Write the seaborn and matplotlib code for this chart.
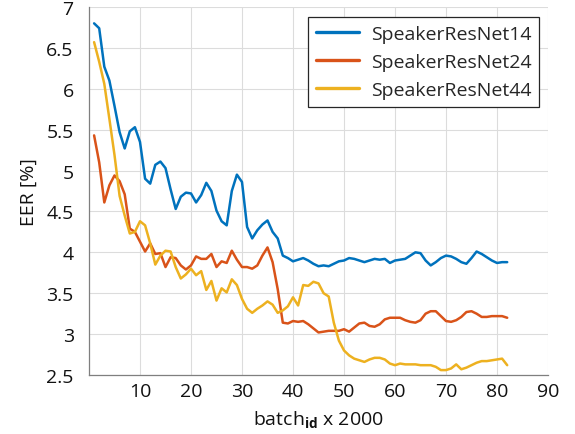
import numpy as np
import pandas as pd
import matplotlib
matplotlib.use("Agg")
import matplotlib.pyplot as plt
import seaborn as sns

batch = list(range(1, 83))
resnet14 = [6.80, 6.74, 6.27, 6.10, 5.79, 5.47, 5.27, 5.48, 5.53, 5.35,
            4.90, 4.84, 5.07, 5.11, 5.03, 4.77, 4.53, 4.68, 4.73, 4.72,
            4.61, 4.70, 4.85, 4.75, 4.51, 4.38, 4.33, 4.75, 4.95, 4.86,
            4.31, 4.17, 4.27, 4.34, 4.39, 4.25, 4.17, 3.96, 3.93, 3.89,
            3.91, 3.93, 3.90, 3.86, 3.83, 3.84, 3.83, 3.86, 3.89, 3.90,
            3.93, 3.92, 3.90, 3.88, 3.90, 3.92, 3.91, 3.92, 3.87, 3.90,
            3.91, 3.92, 3.96, 4.00, 3.99, 3.90, 3.84, 3.88, 3.93, 3.96,
            3.95, 3.92, 3.88, 3.86, 3.93, 4.01, 3.98, 3.94, 3.90, 3.87,
            3.88, 3.88]
resnet24 = [5.43, 5.10, 4.61, 4.82, 4.94, 4.87, 4.71, 4.29, 4.25, 4.13,
            4.01, 4.11, 3.98, 3.99, 3.82, 3.94, 3.93, 3.84, 3.79, 3.84,
            3.95, 3.92, 3.92, 3.98, 3.82, 3.89, 3.87, 4.02, 3.91, 3.82,
            3.82, 3.80, 3.84, 3.96, 4.06, 3.88, 3.55, 3.14, 3.13, 3.16,
            3.15, 3.16, 3.12, 3.07, 3.02, 3.03, 3.04, 3.04, 3.04, 3.06,
            3.03, 3.08, 3.13, 3.14, 3.10, 3.09, 3.12, 3.18, 3.20, 3.20,
            3.20, 3.17, 3.15, 3.14, 3.17, 3.25, 3.28, 3.28, 3.22, 3.16,
            3.15, 3.17, 3.21, 3.27, 3.28, 3.25, 3.21, 3.21, 3.22, 3.22,
            3.22, 3.20]
resnet44 = [6.57, 6.33, 6.06, 5.63, 5.19, 4.69, 4.45, 4.23, 4.25, 4.38,
            4.33, 4.11, 3.85, 3.96, 4.02, 4.01, 3.82, 3.68, 3.73, 3.80,
            3.72, 3.77, 3.54, 3.65, 3.41, 3.56, 3.51, 3.67, 3.60, 3.43,
            3.31, 3.26, 3.31, 3.35, 3.40, 3.36, 3.26, 3.29, 3.34, 3.45,
            3.35, 3.60, 3.59, 3.64, 3.62, 3.50, 3.46, 3.14, 2.92, 2.80,
            2.74, 2.70, 2.68, 2.66, 2.69, 2.71, 2.71, 2.69, 2.64, 2.62,
            2.64, 2.63, 2.63, 2.63, 2.62, 2.62, 2.62, 2.60, 2.56, 2.56,
            2.58, 2.63, 2.57, 2.59, 2.62, 2.65, 2.67, 2.67, 2.68, 2.69,
            2.70, 2.62]
series_names = ["SpeakerResNet14", "SpeakerResNet24", "SpeakerResNet44"]
colors = ["#0072BD", "#D95319", "#EDB120"]
xticks = [10, 20, 30, 40, 50, 60, 70, 80, 90]
yticks = [2.5, 3, 3.5, 4, 4.5, 5, 5.5, 6, 6.5, 7]

df = pd.DataFrame({
    "batch": batch * 3,
    "EER": resnet14 + resnet24 + resnet44,
    "model": [series_names[0]] * 82 + [series_names[1]] * 82 + [series_names[2]] * 82,
})

sns.set_theme(style="white")
plt.rcParams["font.family"] = ["Open Sans", "DejaVu Sans"]
plt.rcParams["mathtext.fontset"] = "custom"
plt.rcParams["mathtext.rm"] = "Open Sans"
plt.rcParams["mathtext.bf"] = "Open Sans:bold"

fig = plt.figure(figsize=(5.75, 4.35), dpi=100)
ax = fig.add_axes([89 / 575, 1 - 376 / 435, (548 - 89) / 575, (376 - 8) / 435])

sns.lineplot(data=df, x="batch", y="EER", hue="model", palette=colors,
             linewidth=1.8, ax=ax, legend=True)

ax.set_xlim(0, 90)
ax.set_ylim(2.5, 7)
ax.set_xticks(xticks)
ax.set_yticks(yticks)
ax.set_yticklabels([f"{t:g}" for t in yticks])
ax.grid(True, color="#DCDCDC", linewidth=0.8)
ax.set_axisbelow(True)
for s in ["top", "right"]:
    ax.spines[s].set_visible(False)
for s in ["left", "bottom"]:
    ax.spines[s].set_color("#7F7F7F")
    ax.spines[s].set_linewidth(0.9)
ax.tick_params(axis="both", direction="in", length=4, width=0.8,
               color="#555555", labelsize=14, labelcolor="#111111", pad=5)
ax.tick_params(axis="y", pad=11)
ax.set_xlabel(r"batch$_{\mathbf{id}}$ x 2000", fontsize=14, color="#111111",
              labelpad=6)
ax.set_ylabel("EER [%]", fontsize=14, color="#111111", labelpad=6)

leg = ax.legend(loc="upper right", bbox_to_anchor=(539 / 575, 1 - 18 / 435),
                bbox_transform=fig.transFigure, fontsize=14, frameon=True,
                fancybox=False, edgecolor="#262626", framealpha=1,
                handlelength=2.2, borderpad=0.4, labelspacing=0.52,
                handletextpad=0.6, borderaxespad=0)
leg.get_frame().set_linewidth(0.9)
for line in leg.get_lines():
    line.set_linewidth(2.4)

fig.savefig("out.png", dpi=100)
